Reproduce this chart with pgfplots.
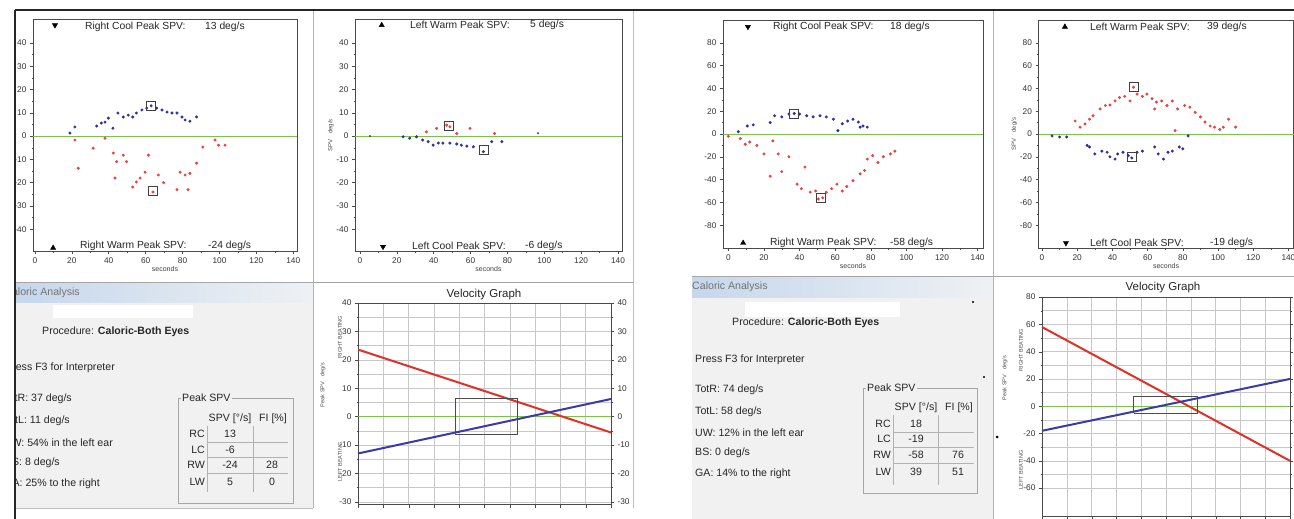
\documentclass[border=0pt]{standalone}
\usepackage{fontspec}
\setmainfont{Liberation Sans}
\usepackage{pgfplots}
\pgfplotsset{compat=1.18}
\definecolor{bdot}{HTML}{2E2E9E}
\definecolor{rdot}{HTML}{E8413E}
\definecolor{gline}{HTML}{7BC24A}
\definecolor{panel}{HTML}{F1F1F1}
\definecolor{hdrL}{HTML}{C6D7EC}
\definecolor{hdrR}{HTML}{EEF1F4}
\definecolor{frame}{HTML}{4A4A4A}
\definecolor{gridc}{HTML}{C8C8C8}
\definecolor{vred}{HTML}{E0302A}
\definecolor{vblue}{HTML}{3A3AA8}
\newcommand{\tk}{\fontsize{8.3}{9}\selectfont}
\newcommand{\an}{\fontsize{10.3}{11}\selectfont}
\newcommand{\pf}{\fontsize{10.6}{12}\selectfont}
\newcommand{\tf}{\fontsize{11.5}{12}\selectfont}
\pgfplotsset{
 scat/.style={scale only axis, clip=false, axis line style={frame, line width=0.6pt},
   tick pos=left, tick align=outside, major tick length=3pt, minor tick length=1.5pt,
   tick style={frame, line width=0.4pt}, minor x tick num=1, minor y tick num=1,
   xtick={0,20,...,140}, ticklabel style={font=\tk, text=black!80},
   xlabel={seconds}, xlabel style={font=\fontsize{7}{7}\selectfont, text=black!75, yshift=4pt},
   /pgf/number format/assume math mode=true},
 dots/.style={only marks, mark=*, mark size=1.3pt},
 pk/.style={only marks, mark=square, mark size=4.5pt, black!75, mark options={line width=0.6pt}},
 triu/.style={only marks, mark=triangle*, mark size=3pt, black},
 trid/.style={only marks, mark=triangle*, mark size=3pt, black, mark options={rotate=180}},
 vel/.style={scale only axis, clip=false, xmin=0, xmax=10, xtick={0,...,10}, xticklabels={},
   grid=both, major grid style={gridc, line width=0.5pt}, minor grid style={gridc, line width=0.5pt},
   minor y tick num=1, axis line style={frame, line width=0.7pt}, tick align=outside,
   major tick length=3pt, minor tick length=1.5pt, tick style={frame},
   ytick pos=left, xtick pos=bottom, ticklabel style={font=\tk, text=black!80},
   /pgf/number format/assume math mode=true},
 velr/.style={scale only axis, xmin=0, xmax=10, axis x line=none, axis y line*=right,
   axis line style={frame, line width=0.7pt}, tick align=outside, major tick length=3pt,
   minor tick length=1.5pt, tick style={frame}, minor y tick num=1,
   ticklabel style={font=\tk, text=black!80}, /pgf/number format/assume math mode=true},
}
\begin{document}
\begin{tikzpicture}[x=1pt,y=1pt]
\useasboundingbox (0,0) rectangle (1294,-519);
\fill[white] (0,0) rectangle (1294,-519);
% panels
\fill[panel] (15,-283) rectangle (313,-508);
\shade[left color=hdrL,right color=hdrR] (15,-283) rectangle (313,-302);
\fill[panel] (692,-277) rectangle (993,-519);
\shade[left color=hdrL,right color=hdrR] (692,-277) rectangle (993,-297);
\fill[white] (53,-305) rectangle (193,-318);
\fill[white] (745,-302) rectangle (900,-317);

% ---------- Scatter 1 ----------
\begin{axis}[scat, at={(33pt,-251.4pt)}, anchor=south west, width=264pt, height=231.8pt,
  xmin=-1, xmax=142, ymin=-49.5, ymax=50, ytick={-40,-30,...,40}]
\addplot[gline, line width=0.8pt] coordinates {(-1,0)(142,0)};
\addplot[dots, bdot] coordinates {(19,1.3)(21.7,3.9)(33.5,4.3)(36,5.6)(38,6)(39.8,7.7)(42.3,3.4)(45,9.9)(47.9,8.2)(50.6,9)(53,8.2)(55,9.9)(58,11.2)(60.6,12)(63,13)(66,12)(68.9,11.2)(71.6,10.3)(74.3,9.9)(77,9.9)(79.7,8.2)(81.4,6.9)(84,6.4)(87.6,8.2)};
\addplot[dots, rdot] coordinates {(21.7,-1.7)(23.5,-13.8)(31.6,-5.2)(38,-0.9)(42.5,-7.3)(43.4,-18)(44.3,-11)(47.9,-8.2)(49.7,-11)(53,-21.9)(55,-19.7)(57,-18)(59.7,-15.5)(61.5,-8.2)(64,-24)(66.9,-16.7)(69.7,-20)(77,-23)(78.7,-15.5)(81.4,-16.7)(84,-16)(83,-23)(87.6,-11.6)(91,-4.7)(97.6,-1.7)(99.5,-3.9)(103,-3.9)};
\addplot[pk] coordinates {(63,13)(64,-23.5)};
\addplot[trid] coordinates {(10.9,47.6)};
\addplot[triu] coordinates {(9.9,-48)};
\end{axis}

% ---------- Scatter 2 ----------
\begin{axis}[scat, at={(355pt,-251.4pt)}, anchor=south west, width=267pt, height=231.8pt,
  xmin=-2.7, xmax=142.2, ymin=-49.5, ymax=50, ytick={-40,-30,...,40},
  ylabel={SPV\quad deg/s}, ylabel style={font=\fontsize{6}{7}\selectfont, text=black!70, yshift=-4pt}]
\addplot[gline, line width=0.8pt] coordinates {(-2.7,0)(142.2,0)};
\addplot[dots, bdot] coordinates {(23.4,-0.3)(27,-0.9)(30.7,-0.3)(34,-1.7)(37,-2.4)(39.7,-3.9)(42.5,-3)(45,-3)(48.8,-3)(52.5,-3.4)(55,-3.9)(58,-4.3)(61.5,-4.6)(67,-6.7)(71.5,-2.4)(77,-2.4)};
\addplot[dots, rdot] coordinates {(36,1.8)(41.6,3.3)(47,4.7)(48.8,4)(52.5,1.1)(59.7,3.3)(73,1.1)};
\addplot[dots, black!70, mark size=0.8pt] coordinates {(5.4,0)(96.6,1.2)};
\addplot[pk] coordinates {(48,4.5)(67,-6)};
\addplot[triu] coordinates {(11.8,47.6)};
\addplot[trid] coordinates {(12.5,-47.5)};
\end{axis}

% ---------- Scatter 3 ----------
\begin{axis}[scat, at={(723pt,-248pt)}, anchor=south west, width=260pt, height=228pt,
  xmin=-3, xmax=143, ymin=-100, ymax=100, ytick={-80,-60,...,80}]
\addplot[gline, line width=0.8pt] coordinates {(-3,0)(143,0)};
\addplot[dots, rdot] coordinates {(0,-2)(6.7,-4)(9.5,-9)(12,-7)(16,-10)(20,-17.5)(23.5,-37)(25,-6)(28,-17.5)(30,-33)(34,-20)(38.6,-44)(41,-48)(43,-29)(46,-51)(49,-50)(50.5,-57)(53,-56)(55,-51)(58,-48)(61,-44)(64,-50)(66.5,-46)(70,-41)(74,-35)(76.5,-32)(78,-22)(81,-19)(84,-25)(87,-20)(91,-17.5)(93.5,-15)};
\addplot[dots, bdot] coordinates {(5.6,2)(10.6,7)(14,8)(23.5,10)(26,16)(30,15)(34,17.5)(37,18)(40,17.5)(44,16)(47.6,15)(51.5,16)(55,15)(59,13)(61.5,3)(64,9)(67,11.4)(70,13)(73,10.5)(75.6,7)(78,6)(74,6)};
\addplot[pk] coordinates {(37,18)(52,-56)};
\addplot[trid] coordinates {(11,94)};
\addplot[triu] coordinates {(8.3,-95.6)};
\end{axis}

% ---------- Scatter 4 ----------
\begin{axis}[scat, at={(1038.5pt,-248pt)}, anchor=south west, width=255.2pt, height=228pt,
  xmin=-2, xmax=143, ymin=-100, ymax=100, ytick={-80,-60,...,80},
  ylabel={SPV\quad deg/s}, ylabel style={font=\fontsize{6}{7}\selectfont, text=black!70, yshift=-4pt}]
\addplot[gline, line width=0.8pt] coordinates {(-2,0)(143,0)};
\addplot[dots, rdot] coordinates {(18.8,11.4)(21.6,6)(24.4,8.8)(27,13)(29,16)(33,22)(36,25)(38.6,25.4)(41.5,29)(44,32)(47,33)(50,29)(52,41)(54,35)(57,33)(59.6,35)(62.5,31)(65,28)(64,22)(68,29)(71,25)(74,29)(75.6,3)(77,22)(81,25)(84,23.5)(87,19)(90,15)(92.6,10.5)(95.5,7)(98,6)(101,4)(103,6)(106,13)(110,6)};
\addplot[dots, bdot] coordinates {(5.7,-1.7)(10,-2.6)(14,-2.6)(25.6,-10)(27,-11.4)(30,-17.5)(34,-15)(37,-16)(38.6,-20)(41.5,-22)(43,-17.5)(46,-16)(49,-19)(51,-21)(54,-16)(57,-15)(64,-11.4)(66,-17.5)(69,-22)(71.6,-16)(74,-15)(78,-11.4)(80,-13)(83,-1.7)};
\addplot[pk] coordinates {(52,41)(51,-20)};
\addplot[triu] coordinates {(13,94)};
\addplot[trid] coordinates {(13.6,-95.6)};
\end{axis}

% ---------- Velocity graph left ----------
\begin{axis}[vel, at={(358pt,-504.6pt)}, anchor=south west, width=253pt, height=201.6pt,
  ymin=-31, ymax=40, ytick={-30,-20,...,40}]
\addplot[gline, line width=0.9pt] coordinates {(0,0)(10,0)};
\addplot[vred, line width=2pt] coordinates {(0,23.6)(10,-5.6)};
\addplot[vblue, line width=2pt] coordinates {(0,-13)(10,6.2)};
\addplot[black!70, line width=0.7pt] coordinates {(3.83,-6.2)(6.3,-6.2)(6.3,6.3)(3.83,6.3)(3.83,-6.2)};
\end{axis}
\begin{axis}[velr, at={(358pt,-504.6pt)}, anchor=south west, width=253pt, height=201.6pt,
  ymin=-31, ymax=40, ytick={-30,-20,...,40}]
\end{axis}

% ---------- Velocity graph right ----------
\begin{axis}[vel, at={(1042pt,-516.8pt)}, anchor=south west, width=248pt, height=219.8pt,
  ymin=-81, ymax=80, ytick={-60,-40,...,80}]
\addplot[gline, line width=0.9pt] coordinates {(0,0)(10,0)};
\addplot[vred, line width=2pt] coordinates {(0,58)(10,-40)};
\addplot[vblue, line width=2pt] coordinates {(0,-18)(10,20)};
\addplot[black!70, line width=0.7pt] coordinates {(3.7,-5)(6.25,-5)(6.25,7)(3.7,7)(3.7,-5)};
\end{axis}
\begin{axis}[velr, at={(1042pt,-516.8pt)}, anchor=south west, width=248pt, height=219.8pt,
  ymin=-81, ymax=80, ytick={-60,-40,...,80}, yticklabels={}]
\end{axis}

% ---------- scatter annotations ----------
\begin{scope}[every node/.style={anchor=west, inner sep=0pt, font=\an, text=black!85}]
\node at (85,-27) {Right Cool Peak SPV:}; \node at (205,-27) {13 deg/s};
\node at (80,-246) {Right Warm Peak SPV:}; \node at (208,-246) {-24 deg/s};
\node at (410,-25) {Left Warm Peak SPV:}; \node at (530,-25) {5 deg/s};
\node at (412,-246) {Left Cool Peak SPV:}; \node at (525,-246) {-6 deg/s};
\node at (773,-27) {Right Cool Peak SPV:}; \node at (890,-27) {18 deg/s};
\node at (770,-243) {Right Warm Peak SPV:}; \node at (890,-243) {-58 deg/s};
\node at (1090,-27) {Left Warm Peak SPV:}; \node at (1207,-27) {39 deg/s};
\node at (1090,-243) {Left Cool Peak SPV:}; \node at (1210,-243) {-19 deg/s};
\end{scope}

% ---------- velocity titles and labels ----------
\node[font=\tf, text=black!85] at (484,-295) {Velocity Graph};
\node[font=\tf, text=black!85] at (1163,-288) {Velocity Graph};
\begin{scope}[every node/.style={rotate=90, inner sep=0pt, font=\fontsize{5.5}{6}\selectfont, text=black!70}]
\node at (323,-385) {Peak SPV\quad deg/s};
\node at (340,-337) {RIGHT BEATING};
\node at (340,-462) {LEFT BEATING};
\node at (1005,-378) {Peak SPV\quad deg/s};
\node at (1021,-350) {RIGHT BEATING};
\node at (1021,-470) {LEFT BEATING};
\end{scope}

% ---------- text panels ----------
\begin{scope}[every node/.style={inner sep=0pt, font=\pf, text=black!85}]
\node[anchor=east, text=black!55] at (80,-293) {Caloric Analysis};
\node[anchor=west] at (42,-332) {Procedure: \textbf{Caloric-Both Eyes}};
\node[anchor=east] at (115,-368) {Press F3 for Interpreter};
\node[anchor=east] at (72,-399) {TotR: 37 deg/s};
\node[anchor=east] at (70,-421) {TotL: 11 deg/s};
\node[anchor=east] at (113,-443) {UW: 54\% in the left ear};
\node[anchor=east] at (60,-463) {BS: 8 deg/s};
\node[anchor=east] at (100,-484) {GA: 25\% to the right};
\node[anchor=west, text=black!55] at (692,-287) {Caloric Analysis};
\node[anchor=west] at (732,-323) {Procedure: \textbf{Caloric-Both Eyes}};
\node[anchor=west] at (695,-360) {Press F3 for Interpreter};
\node[anchor=west] at (695,-390) {TotR: 74 deg/s};
\node[anchor=west] at (695,-412) {TotL: 58 deg/s};
\node[anchor=west] at (695,-433) {UW: 12\% in the left ear};
\node[anchor=west] at (695,-453) {BS: 0 deg/s};
\node[anchor=west] at (695,-474) {GA: 14\% to the right};
\end{scope}

% Peak SPV tables
\draw[gray!70] (178,-398) rectangle (293,-503);
\draw[gray!70] (863,-388) rectangle (977,-493);
\begin{scope}[every node/.style={inner sep=0pt, font=\pf, text=black!85}]
\node[fill=panel, inner sep=1pt, anchor=west] at (181,-398) {Peak SPV};
\node at (230,-419) {SPV [°/s]}; \node at (273,-419) {FI [\%]};
\node[anchor=east] at (205,-434) {RC}; \node[anchor=east] at (205,-450) {LC};
\node[anchor=east] at (205,-465) {RW}; \node[anchor=east] at (205,-482) {LW};
\node at (230,-434) {13}; \node at (230,-450) {-6}; \node at (230,-465) {-24}; \node at (230,-482) {5};
\node at (272,-465) {28}; \node at (272,-482) {0};
\node[fill=panel, inner sep=1pt, anchor=west] at (866,-388) {Peak SPV};
\node at (916,-408) {SPV [°/s]}; \node at (959,-408) {FI [\%]};
\node[anchor=east] at (891,-424) {RC}; \node[anchor=east] at (891,-439) {LC};
\node[anchor=east] at (891,-455) {RW}; \node[anchor=east] at (891,-472) {LW};
\node at (916,-424) {18}; \node at (916,-439) {-19}; \node at (916,-455) {-58}; \node at (916,-472) {39};
\node at (958,-455) {76}; \node at (958,-472) {51};
\end{scope}
\draw[gray!60] (207,-426)--(207,-492) (253,-426)--(253,-492)
  (207,-442)--(288,-442) (207,-457)--(288,-457) (207,-473)--(288,-473);
\draw[gray!60] (893,-415)--(893,-485) (938,-415)--(938,-485)
  (893,-432)--(974,-432) (893,-447)--(974,-447) (893,-463)--(974,-463);

% small dots
\fill[black] (973,-302) circle (1.2) (984,-377) circle (1.2) (997,-437) circle (1.5);

% ---------- separators and borders ----------
\draw[gray!70, line width=0.8pt] (15,-282)--(633,-282);
\draw[gray!60, line width=0.8pt] (313,-10)--(313,-508);
\draw[gray!50, line width=0.8pt] (633,-10)--(633,-508);
\draw[gray!50, line width=0.6pt] (15,-508)--(313,-508);
\draw[gray!70, line width=0.8pt] (692,-276)--(1294,-276);
\draw[gray!60, line width=0.8pt] (993,-10)--(993,-519);
\fill[white] (0,0) rectangle (15,-519);
\fill[white] (0,0) rectangle (1294,-10);
\draw[black!85, line width=1.6pt] (15,-10)--(1294,-10);
\draw[black!85, line width=1.6pt] (15,-10)--(15,-519);
\end{tikzpicture}
\end{document}
